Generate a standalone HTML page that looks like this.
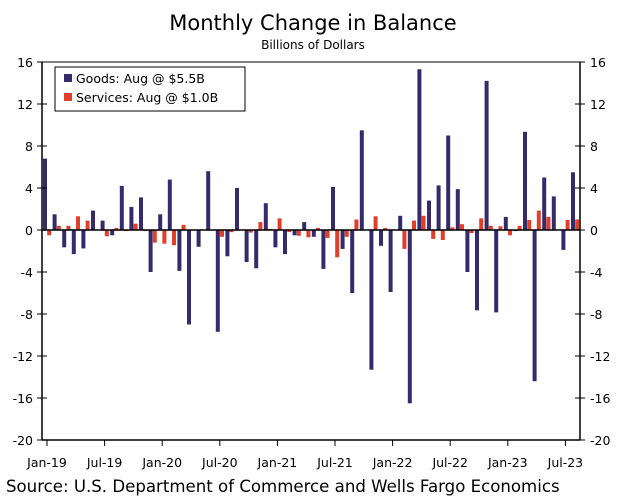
<!DOCTYPE html>
<html><head><meta charset="utf-8"><style>
body{margin:0;background:#fff;width:627px;height:499px;overflow:hidden;font-family:"DejaVu Sans","Liberation Sans",sans-serif}
</style></head><body>
<svg id="s" width="627" height="499" xmlns="http://www.w3.org/2000/svg" font-family="DejaVu Sans, Liberation Sans, sans-serif">
<text x="313" y="30" text-anchor="middle" font-size="21" fill="#000">Monthly Change in Balance</text>
<text x="313" y="49" text-anchor="middle" font-size="12" fill="#000">Billions of Dollars</text>
<g id="bars"></g>
<line x1="42" y1="230" x2="580" y2="230" stroke="#000" stroke-width="1.5"/>
<line x1="42" y1="62" x2="580" y2="62" stroke="#000" stroke-width="1"/>
<line x1="42" y1="62" x2="42" y2="440" stroke="#000" stroke-width="1.5"/>
<line x1="580" y1="62" x2="580" y2="440" stroke="#000" stroke-width="1.5"/>
<line x1="42" y1="440" x2="580" y2="440" stroke="#000" stroke-width="1.5"/>
<g id="ax" font-size="12.5" fill="#000"></g>
<rect x="55" y="67" width="190" height="44" fill="#fff" stroke="#000" stroke-width="1"/>
<rect x="64" y="74" width="8" height="8" fill="#352a6b"/>
<text x="76" y="83" font-size="12.5">Goods: Aug @ $5.5B</text>
<rect x="64" y="93" width="8" height="8" fill="#e0402a"/>
<text x="76" y="102" font-size="12.5">Services: Aug @ $1.0B</text>
<text x="6" y="492" font-size="16.6" fill="#000">Source: U.S. Department of Commerce and Wells Fargo Economics</text>
</svg>
<script>
var g=[6.8,1.5,-1.65,-2.3,-1.75,1.85,0.9,-0.5,4.2,2.2,3.1,-4.0,
1.5,4.8,-3.9,-9.0,-1.6,5.6,-9.7,-2.5,4.0,-3.05,-3.65,2.55,
-1.65,-2.3,-0.5,0.75,-0.65,-3.7,4.1,-1.8,-6.0,9.5,-13.3,-1.5,
-5.9,1.35,-16.5,15.3,2.8,4.25,9.0,3.9,-4.0,-7.65,14.2,-7.85,
1.25,-0.1,9.35,-14.4,5.0,3.2,-1.9,5.5];
var s=[-0.5,0.4,0.4,1.3,0.9,0,-0.6,0.2,-0.1,0.6,-0.1,-1.2,
-1.3,-1.45,0.5,0,0,0,-0.65,-0.2,0,-0.25,0.75,0.1,
1.1,-0.2,-0.55,-0.7,0.2,-0.75,-2.6,-0.65,1.0,0,1.3,0.2,
0.05,-1.8,0.9,1.35,-0.85,-0.95,0.25,0.55,-0.3,1.1,0.4,0.35,
-0.5,0.4,0.95,1.85,1.25,0,0.95,1.0];
var h='',u=10.5,z=230;
function bar(x,v,c){var y=v>=0?z-v*u:z,hh=Math.abs(v)*u;if(hh<0.01)return '';return '<rect x="'+x.toFixed(1)+'" y="'+y.toFixed(1)+'" width="4" height="'+hh.toFixed(1)+'" fill="'+c+'"/>';}
for(var i=0;i<56;i++){var x=43+9.6*i;h+=bar(x,g[i],'#352a6b');h+=bar(x+4.2,s[i],'#e0402a');}
document.getElementById('bars').innerHTML=h;
var a='';
for(var v=-20;v<=16;v+=4){var y=z-v*u;
a+='<line x1="37" y1="'+y+'" x2="47" y2="'+y+'" stroke="#000"/><line x1="575" y1="'+y+'" x2="585" y2="'+y+'" stroke="#000"/>';
a+='<text x="33" y="'+(y+5)+'" text-anchor="end">'+v+'</text><text x="590" y="'+(y+5)+'">'+v+'</text>';}
var L=['Jan-19','Jul-19','Jan-20','Jul-20','Jan-21','Jul-21','Jan-22','Jul-22','Jan-23','Jul-23'];
for(var k=0;k<10;k++){var x=45+9.6*6*k+2;a+='<line x1="'+x+'" y1="440" x2="'+x+'" y2="446" stroke="#000"/><text x="'+x+'" y="467" text-anchor="middle">'+L[k]+'</text>';}
document.getElementById('ax').innerHTML=a;
</script>
</body></html>
